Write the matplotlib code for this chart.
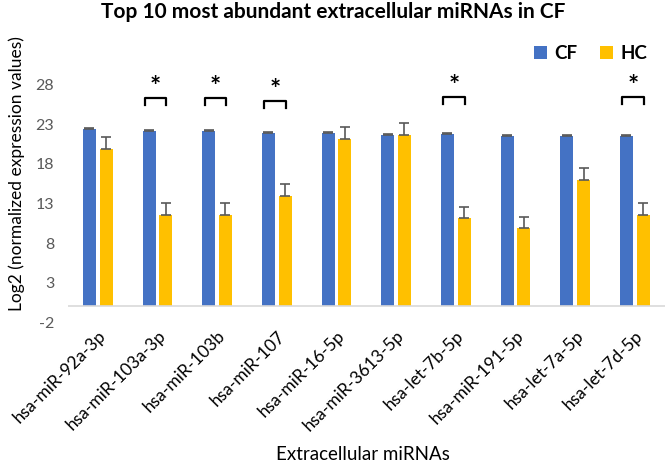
import matplotlib.pyplot as plt
import numpy as np

plt.rcParams['font.family'] = ['Lato', 'DejaVu Sans']
plt.rcParams['axes.unicode_minus'] = False

mirnas = ['hsa-miR-92a-3p', 'hsa-miR-103a-3p', 'hsa-miR-103b', 'hsa-miR-107',
          'hsa-miR-16-5p', 'hsa-miR-3613-5p', 'hsa-let-7b-5p', 'hsa-miR-191-5p',
          'hsa-let-7a-5p', 'hsa-let-7d-5p']
cf = [22.4, 22.2, 22.2, 21.9, 21.9, 21.7, 21.8, 21.5, 21.5, 21.5]
cf_err = [0.15, 0.12, 0.12, 0.12, 0.12, 0.12, 0.12, 0.12, 0.12, 0.12]
hc = [19.9, 11.6, 11.6, 14.0, 21.2, 21.7, 11.2, 9.9, 16.0, 11.6]
hc_err = [1.5, 1.5, 1.5, 1.5, 1.5, 1.5, 1.4, 1.4, 1.5, 1.5]
signif = [1, 2, 3, 6, 9]
bracket_y = {1: 26.4, 2: 26.4, 3: 26.0, 6: 26.5, 9: 26.5}

fig = plt.figure(figsize=(6.66, 4.69), dpi=100)
ax = fig.add_axes([0.102, 0.313, 0.896, 0.506])

x = np.arange(len(mirnas))
w = 0.22
ekw = dict(ecolor='#595959', elinewidth=1.2, capsize=3.5, capthick=1.2)
ax.bar(x - 0.14, cf, w, color='#4472C4', label='CF',
       yerr=[np.zeros(len(cf)), cf_err], error_kw=ekw)
ax.bar(x + 0.14, hc, w, color='#FFC000', label='HC',
       yerr=[np.zeros(len(hc)), hc_err], error_kw=ekw)

for i in signif:
    yb = bracket_y[i]
    ax.plot([i - 0.21, i - 0.21, i + 0.15, i + 0.15], [yb - 0.9, yb, yb, yb - 0.9],
            color='black', lw=1.6)
    ax.text(i - 0.03, yb - 0.2, '*', ha='center', va='bottom', fontsize=19,
            fontweight='bold')

ax.set_xlim(-0.5, 9.5)
ax.set_ylim(-2, 28)
ax.set_yticks([-2, 3, 8, 13, 18, 23, 28])
ax.axhline(0, color='#D9D9D9', lw=1.2)
for s in ax.spines.values():
    s.set_visible(False)
ax.tick_params(axis='y', length=0, labelsize=11.5, labelcolor='#595959', pad=10)
ax.tick_params(axis='x', length=0, labelsize=12.5, labelcolor='black', pad=4)
ax.set_xticks(x)
ax.set_xticklabels(mirnas, rotation=45, ha='right', rotation_mode='anchor')

fig.text(0.5, 0.975, 'Top 10 most abundant extracellular miRNAs in CF',
         ha='center', va='center', fontsize=15, fontweight='bold')
fig.text(0.025, 0.63, 'Log2 (normalized expression values)', rotation=90,
         ha='center', va='center', fontsize=12.5)
fig.text(0.545, 0.03, 'Extracellular miRNAs', ha='center', va='center',
         fontsize=13.5)

ax.legend(loc='upper right', bbox_to_anchor=(1.0, 1.24), ncol=2, frameon=False,
          prop={'weight': 'bold', 'size': 13.5}, handlelength=0.7, handleheight=0.7,
          handletextpad=0.4, columnspacing=1.2)

fig.savefig('out.png', dpi=100)
